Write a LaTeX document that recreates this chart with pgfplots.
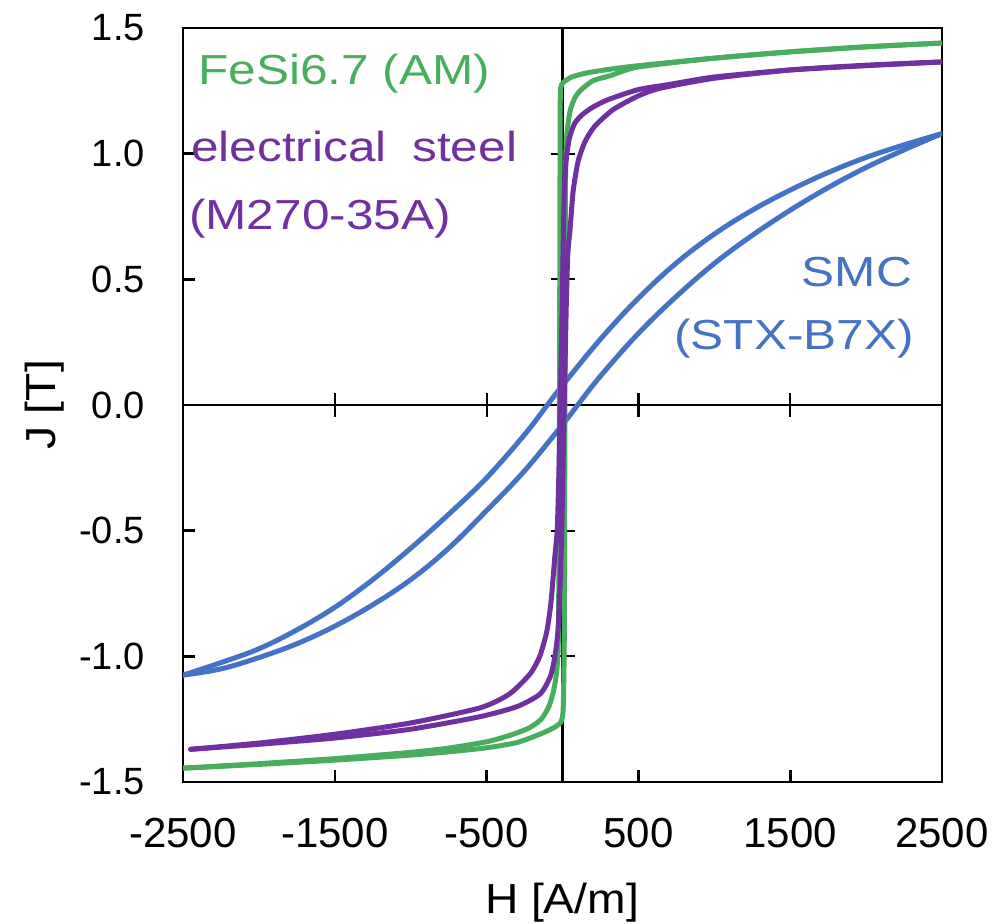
\documentclass[border=0pt]{standalone}
\usepackage{pgfplots}
\pgfplotsset{compat=1.18}
\usepackage{fontspec}
\setmainfont{Liberation Sans}
\newfontfamily\annot[FakeStretch=1.18]{Liberation Sans}
\newfontfamily\labfont[FakeStretch=1.1]{Liberation Sans}
\definecolor{cgreen}{RGB}{72,174,94}
\definecolor{cpurple}{RGB}{112,48,160}
\definecolor{cblue}{RGB}{68,114,196}
\begin{document}
\begin{tikzpicture}
\useasboundingbox (0,0) rectangle (994pt,924pt);
% centre lines with crossing ticks
\begin{axis}[at={(183pt,142pt)}, anchor=south west, width=759pt, height=754pt,
  scale only axis, xmin=-2500, xmax=2500, ymin=-1.5, ymax=1.5,
  axis lines=middle, axis line style={-, line width=2.2pt, black},
  xtick={-1500,-500,500,1500}, ytick={-1,-0.5,0.5,1},
  xticklabels={}, yticklabels={},
  tick align=center, major tick length=24pt, tick style={line width=2.2pt, black}]
\end{axis}
\begin{axis}[at={(183pt,142pt)}, anchor=south west, width=759pt, height=754pt,
  scale only axis, xmin=-2500, xmax=2500, ymin=-1.5, ymax=1.5,
  axis line style={line width=2.6pt, black},
  tick pos=left, tick align=inside, major tick length=12pt,
  tick style={line width=2.6pt, black},
  xtick={-2500,-1500,-500,500,1500,2500},
  xticklabels={-2500,-1500,-500,500,1500,2500},
  ytick={-1.5,-1,-0.5,0,0.5,1,1.5},
  yticklabels={-1.5,-1.0,-0.5,0.0,0.5,1.0,1.5},
  xticklabel style={font=\fontsize{42}{42}\selectfont, inner sep=0pt, anchor=north, yshift=-36pt},
  yticklabel style={font=\fontsize{38}{38}\selectfont, inner sep=0pt, anchor=east, xshift=-38pt},
  every axis plot/.append style={line width=5pt, line join=round, line cap=round}]
% SMC upper (descending) branch
\addplot[cblue, smooth, tension=0.6] coordinates {
(2500,1.08) (2250,1.035) (2000,0.985) (1750,0.925) (1500,0.855) (1250,0.775) (1000,0.68)
(750,0.565) (500,0.425) (250,0.262) (0,0.078) (-100,0.0) (-250,-0.118) (-500,-0.29)
(-750,-0.435) (-1000,-0.57) (-1250,-0.695) (-1500,-0.805) (-1750,-0.895) (-2000,-0.97)
(-2250,-1.025) (-2500,-1.075)};
% SMC lower (ascending) branch
\addplot[cblue, smooth, tension=0.6] coordinates {
(-2500,-1.075) (-2250,-1.05) (-2000,-1.005) (-1750,-0.95) (-1500,-0.88) (-1250,-0.795)
(-1000,-0.695) (-750,-0.57) (-500,-0.42) (-250,-0.262) (0,-0.078) (100,0.0) (250,0.115)
(500,0.285) (750,0.432) (1000,0.563) (1250,0.675) (1500,0.775) (1750,0.865) (2000,0.945)
(2250,1.015) (2500,1.08)};
% FeSi6.7 upper branch
\addplot[cgreen, smooth, tension=0.4] coordinates {
(2500,1.44) (2000,1.425) (1500,1.405) (1000,1.38) (500,1.35) (300,1.335) (150,1.32)
(60,1.305) (20,1.29) (0,1.28) (-10,1.265) (-15,1.2) (-18,0.5) (-20,0) (-22,-0.5)
(-28,-0.95) (-40,-1.07) (-60,-1.14) (-90,-1.2) (-140,-1.25) (-220,-1.285) (-350,-1.315)
(-500,-1.34) (-750,-1.365) (-1000,-1.382) (-1500,-1.407) (-2000,-1.427) (-2500,-1.445)};
% FeSi6.7 lower branch
\addplot[cgreen, smooth, tension=0.4] coordinates {
(-2500,-1.445) (-2000,-1.43) (-1500,-1.413) (-1000,-1.393) (-750,-1.38) (-500,-1.364)
(-300,-1.343) (-150,-1.31) (-60,-1.285) (-15,-1.265) (0,-1.24) (6,-1.18) (12,-0.9)
(16,0) (20,0.9) (28,1.07) (50,1.17) (80,1.22) (115,1.25) (200,1.29) (313,1.31)
(500,1.345) (1000,1.38) (1500,1.405) (2000,1.425) (2500,1.44)};
% M270-35A upper branch
\addplot[cpurple, smooth, tension=0.4] coordinates {
(2500,1.365) (2000,1.350) (1500,1.333) (1000,1.305) (700,1.275) (500,1.255) (300,1.215)
(200,1.185) (130,1.155) (80,1.12) (45,1.06) (25,0.98) (12,0.85) (5,0.65) (-5,0.3)
(-15,0) (-25,-0.3) (-35,-0.5) (-50,-0.6) (-75,-0.78) (-103,-0.9) (-150,-1.0)
(-214,-1.07) (-350,-1.15) (-543,-1.205) (-1000,-1.265) (-1500,-1.31) (-2000,-1.345)
(-2450,-1.37)};
% M270-35A lower branch
\addplot[cpurple, smooth, tension=0.4] coordinates {
(-2450,-1.37) (-2000,-1.35) (-1500,-1.325) (-1000,-1.29) (-543,-1.24) (-300,-1.2)
(-148,-1.15) (-80,-1.08) (-50,-1.0) (-30,-0.9) (-16,-0.72) (-5,-0.5) (5,-0.2) (15,0.1)
(25,0.4) (35,0.6) (50,0.7) (70,0.85) (103,0.97) (150,1.05) (214,1.11) (333,1.175)
(500,1.23) (642,1.26) (1000,1.30) (1500,1.333) (2000,1.352) (2500,1.365)};
\end{axis}
% annotations
\node[anchor=base west, inner sep=0pt, text=cgreen, font=\annot\fontsize{42}{42}\selectfont] at (198pt,839pt) {FeSi6.7 (AM)};
\node[anchor=base west, inner sep=0pt, text=cpurple, font=\annot\fontsize{42}{42}\selectfont] at (191pt,762pt) {electrical\hspace{12pt} steel};
\node[anchor=base west, inner sep=0pt, text=cpurple, font=\annot\fontsize{42}{42}\selectfont] at (189pt,694pt) {(M270-35A)};
\node[anchor=base east, inner sep=0pt, text=cblue, font=\annot\fontsize{42}{42}\selectfont] at (912pt,637pt) {SMC};
\node[anchor=base east, inner sep=0pt, text=cblue, font=\annot\fontsize{42}{42}\selectfont] at (914pt,574pt) {(STX-B7X)};
% axis labels
\node[anchor=base, inner sep=0pt, font=\labfont\fontsize{42}{42}\selectfont] at (562pt,10pt) {H [A/m]};
\node[anchor=base, rotate=90, inner sep=0pt, font=\labfont\fontsize{42}{42}\selectfont] at (55pt,519pt) {J [T]};
\end{tikzpicture}
\end{document}
